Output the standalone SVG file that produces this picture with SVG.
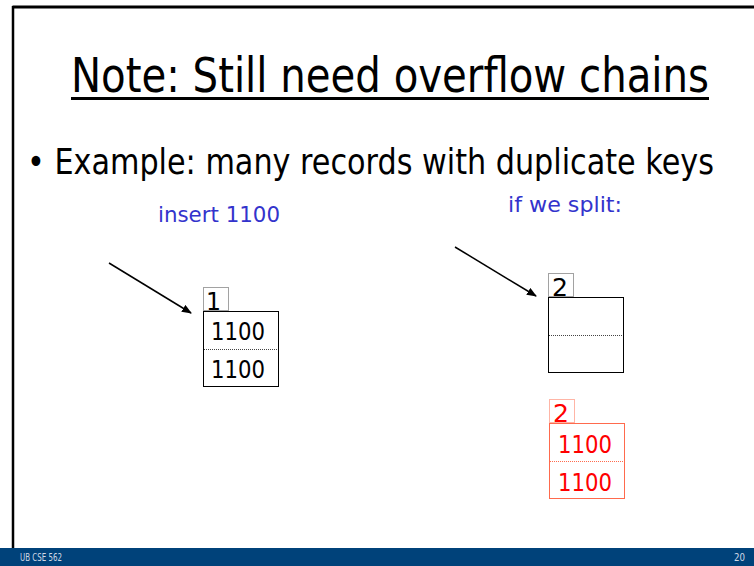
<svg xmlns="http://www.w3.org/2000/svg" width="754" height="566" viewBox="0 0 754 566">
<defs>
<style>
.t{font-family:"DejaVu Sans",sans-serif;}
.blk{fill:#000;}
.blue{fill:#3333cc;}
.red{fill:#ff0000;}
.box{fill:#fff;stroke:#000;stroke-width:1;}
.dot{fill:none;stroke:#444;stroke-width:1;stroke-dasharray:1 1;}
.rbox{fill:#fff;stroke:#ff6a4d;stroke-width:1;}
.rdot{fill:none;stroke:#ff6a4d;stroke-width:1;stroke-dasharray:1 1;}
.num{font-size:25px;}
</style>
<marker id="ah" markerWidth="10" markerHeight="8" refX="9" refY="4" orient="auto" markerUnits="userSpaceOnUse">
<path d="M0,0 L10,4 L0,8 Z" fill="#000"/>
</marker>
</defs>
<rect x="0" y="0" width="754" height="566" fill="#fff"/>
<g id="frame">
<line x1="12.5" y1="7" x2="754" y2="7" stroke="#000" stroke-width="3"/>
<line x1="13" y1="6" x2="13" y2="548" stroke="#000" stroke-width="2.5"/>
<rect x="0" y="548" width="754" height="18" fill="#00427a"/>
<text x="20" y="561" class="t" font-size="10" fill="#cfd8e6" textLength="42" lengthAdjust="spacingAndGlyphs">UB CSE 562</text>
<text x="734" y="561" class="t" font-size="10" fill="#cfd8e6" textLength="11" lengthAdjust="spacingAndGlyphs">20</text>
</g>
<g id="title">
<text x="71" y="92" class="t blk" font-size="48" textLength="638" lengthAdjust="spacingAndGlyphs">Note: Still need overflow chains</text>
<rect x="71" y="97" width="638" height="3" fill="#000"/>
</g>
<g id="bullet">
<text x="27" y="174" class="t blk" font-size="35" textLength="687" lengthAdjust="spacingAndGlyphs">• Example: many records with duplicate keys</text>
</g>
<g id="label-insert">
<text x="158" y="222" class="t blue" font-size="22" textLength="122" lengthAdjust="spacingAndGlyphs">insert 1100</text>
</g>
<g id="label-split">
<text x="508" y="212" class="t blue" font-size="22" textLength="114" lengthAdjust="spacingAndGlyphs">if we split:</text>
</g>
<g id="connectors">
<line x1="109" y1="263" x2="191" y2="313" stroke="#000" stroke-width="1.5" marker-end="url(#ah)"/>
<line x1="455" y1="247" x2="536" y2="296" stroke="#000" stroke-width="1.5" marker-end="url(#ah)"/>
</g>
<g id="bucket-left">
<rect x="203.5" y="287.5" width="25" height="23" class="dot"/>
<text x="206" y="310" class="t blk num" textLength="15" lengthAdjust="spacingAndGlyphs">1</text>
<rect x="203.5" y="311.5" width="75" height="75" class="box"/>
<line x1="204" y1="349.5" x2="278" y2="349.5" class="dot"/>
<text x="211" y="340" class="t blk num" textLength="54" lengthAdjust="spacingAndGlyphs">1100</text>
<text x="211" y="378" class="t blk num" textLength="54" lengthAdjust="spacingAndGlyphs">1100</text>
</g>
<g id="bucket-right">
<rect x="548.5" y="273.5" width="25" height="23" class="dot"/>
<text x="552" y="296" class="t blk num" textLength="16" lengthAdjust="spacingAndGlyphs">2</text>
<rect x="548.5" y="297.5" width="75" height="75" class="box"/>
<line x1="549" y1="335.5" x2="623" y2="335.5" class="dot"/>
</g>
<g id="bucket-red">
<rect x="549.5" y="399.5" width="25" height="23" class="rdot"/>
<text x="553" y="422" class="t red num" textLength="16" lengthAdjust="spacingAndGlyphs">2</text>
<rect x="549.5" y="423.5" width="75" height="75" class="rbox"/>
<line x1="550" y1="461.5" x2="624" y2="461.5" class="rdot"/>
<text x="558" y="453" class="t red num" textLength="54" lengthAdjust="spacingAndGlyphs">1100</text>
<text x="558" y="491" class="t red num" textLength="54" lengthAdjust="spacingAndGlyphs">1100</text>
</g>
</svg>
